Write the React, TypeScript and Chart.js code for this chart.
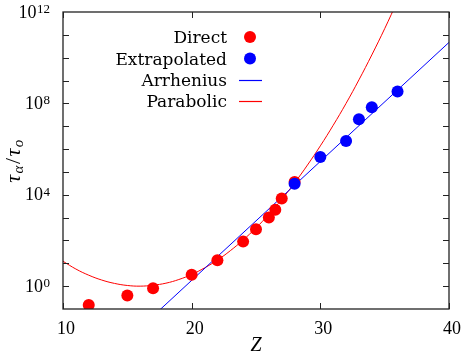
import React, { useEffect, useRef } from 'react';
import { Chart, registerables } from 'chart.js';

Chart.register(...registerables);

// ---- data ----
const directZ = [12, 15, 17, 20, 22, 24, 25, 26, 26.5, 27, 28];
const directTau = [0.148, 0.389, 0.818, 3.16, 13.5, 89, 309, 1023, 2188, 6918, 36300];

const extrapZ = [28, 30, 32, 33, 34, 36];
const extrapTau = [3.02e4, 4.47e5, 2.24e6, 2.04e7, 6.76e7, 3.31e8];

const arrheniusZ = [17, 40];
const arrheniusTau = [0.049, 4.68e10];

const parabolicZ = [10, 11, 12, 13, 14, 15, 16, 17, 18, 19, 20, 21, 22, 23, 24, 25, 26, 27, 28, 29, 30, 31, 32, 33, 34, 35, 36];
const parabolicTau = [
  12.3, 5.62, 3.02, 1.86, 1.32, 1.07, 1.0, 1.1, 1.35, 1.95, 3.24, 6.31, 13.8, 35.5, 105, 355, 1380, 6310,
  3.31e4, 2.0e5, 1.38e6, 1.1e7, 1.0e8, 1.07e9, 1.32e10, 1.86e11, 3.09e12,
];

const xTickValues = [10, 20, 30, 40];
const yTickExponents = [0, 1, 2, 3, 4, 5, 6, 7, 8, 9, 10, 11];
const yLabelExponents = [0, 4, 8, 12];
const legendLabels = ['Direct', 'Extrapolated', 'Arrhenius', 'Parabolic'];

const RED = '#ff0000';
const BLUE = '#0000ff';
const NUM_FONT = '"Liberation Serif", "DejaVu Serif", serif';
const TXT_FONT = '"DejaVu Serif", "Liberation Serif", serif';

const decorPlugin = {
  id: 'decor',
  afterDraw(chart: any) {
    const { ctx, chartArea: a, scales } = chart;
    const xs = scales.x;
    const ys = scales.y;
    ctx.save();

    // frame
    ctx.strokeStyle = '#222';
    ctx.lineWidth = 1.3;
    ctx.strokeRect(a.left, a.top, a.right - a.left, a.bottom - a.top);

    // inward ticks
    ctx.lineWidth = 1;
    const tl = 6;
    const seg = (x1: number, y1: number, x2: number, y2: number) => {
      ctx.beginPath();
      ctx.moveTo(x1, y1);
      ctx.lineTo(x2, y2);
      ctx.stroke();
    };
    for (const v of xTickValues) {
      const px = Math.round(xs.getPixelForValue(v)) + 0.5;
      seg(px, a.bottom, px, a.bottom - tl);
      seg(px, a.top, px, a.top + tl);
    }
    for (const e of yTickExponents) {
      const py = Math.round(ys.getPixelForValue(Math.pow(10, e))) + 0.5;
      seg(a.left, py, a.left + tl, py);
      seg(a.right, py, a.right - tl, py);
    }

    // x tick labels
    ctx.fillStyle = '#000';
    ctx.font = `18px ${NUM_FONT}`;
    ctx.textAlign = 'center';
    ctx.textBaseline = 'alphabetic';
    for (const v of xTickValues) {
      const px = xs.getPixelForValue(v);
      ctx.fillText(String(v), px + 3, a.bottom + 25);
    }

    // y tick labels 10^n
    for (const e of yLabelExponents) {
      const py = ys.getPixelForValue(Math.pow(10, e));
      const sup = String(e);
      ctx.textAlign = 'right';
      ctx.font = `13px ${NUM_FONT}`;
      const ws = ctx.measureText(sup).width;
      ctx.fillText(sup, 50, py + 1);
      ctx.font = `18px ${NUM_FONT}`;
      ctx.fillText('10', 50 - ws - 0.5, py + 5.5);
    }

    // x title
    ctx.font = `italic 20px ${NUM_FONT}`;
    ctx.textAlign = 'center';
    ctx.fillText('Z', (a.left + a.right) / 2, 351);

    // y title: tau_alpha / tau_o
    ctx.save();
    ctx.translate(20, (a.top + a.bottom) / 2);
    ctx.rotate(-Math.PI / 2);
    ctx.textAlign = 'left';
    const parts: [string, string, number][] = [
      ['τ', `italic 22px ${NUM_FONT}`, 0],
      ['α', `italic 15px ${NUM_FONT}`, 3],
      ['/', `22px ${NUM_FONT}`, 0],
      ['τ', `italic 22px ${NUM_FONT}`, 0],
      ['o', `italic 15px ${NUM_FONT}`, 3],
    ];
    let total = 0;
    for (const [t, f] of parts) {
      ctx.font = f;
      total += ctx.measureText(t).width + 1.5;
    }
    let cx = -total / 2;
    for (const [t, f, dy] of parts) {
      ctx.font = f;
      ctx.fillText(t, cx, dy);
      cx += ctx.measureText(t).width + 1.5;
    }
    ctx.restore();

    // legend
    ctx.font = `17px ${TXT_FONT}`;
    ctx.textAlign = 'right';
    const rows = [37, 58.5, 80, 101];
    legendLabels.forEach((lab, i) => {
      const cy = rows[i];
      ctx.fillStyle = '#000';
      ctx.fillText(lab, 227, cy + 6);
      if (i < 2) {
        ctx.fillStyle = i === 0 ? RED : BLUE;
        ctx.beginPath();
        ctx.arc(250, cy, 6, 0, Math.PI * 2);
        ctx.fill();
      } else {
        ctx.strokeStyle = i === 2 ? BLUE : RED;
        ctx.lineWidth = 1.2;
        seg(239, Math.round(cy) + 0.5, 262, Math.round(cy) + 0.5);
      }
    });

    ctx.restore();
  },
};

export default function App() {
  const ref = useRef<HTMLCanvasElement | null>(null);

  useEffect(() => {
    if (!ref.current) return;
    const toPts = (xs: number[], ys: number[]) => xs.map((x, i) => ({ x, y: ys[i] }));
    const chart = new Chart(ref.current, {
      type: 'scatter',
      data: {
        datasets: [
          {
            label: 'Extrapolated',
            data: toPts(extrapZ, extrapTau),
            backgroundColor: BLUE,
            borderColor: BLUE,
            pointRadius: 6,
            pointBorderWidth: 0,
            showLine: false,
            order: 0,
          },
          {
            label: 'Direct',
            data: toPts(directZ, directTau),
            backgroundColor: RED,
            borderColor: RED,
            pointRadius: 6,
            pointBorderWidth: 0,
            showLine: false,
            order: 1,
          },
          {
            label: 'Arrhenius',
            data: toPts(arrheniusZ, arrheniusTau),
            borderColor: BLUE,
            borderWidth: 1,
            pointRadius: 0,
            showLine: true,
            order: 2,
          },
          {
            label: 'Parabolic',
            data: toPts(parabolicZ, parabolicTau),
            borderColor: RED,
            borderWidth: 1,
            pointRadius: 0,
            showLine: true,
            tension: 0.4,
            order: 3,
          },
        ],
      },
      options: {
        animation: false,
        responsive: true,
        maintainAspectRatio: false,
        layout: { padding: { top: 12, right: 14, left: 0, bottom: 0 } },
        plugins: { legend: { display: false }, tooltip: { enabled: false } },
        scales: {
          x: {
            type: 'linear',
            min: 10,
            max: 40,
            grid: { display: false },
            border: { display: false },
            ticks: { display: false },
            afterFit: (s: any) => {
              s.height = 43;
            },
          },
          y: {
            type: 'logarithmic',
            min: 0.1,
            max: 1e12,
            grid: { display: false },
            border: { display: false },
            ticks: { display: false },
            afterFit: (s: any) => {
              s.width = 63;
            },
          },
        },
      },
      plugins: [decorPlugin],
    } as any);
    return () => chart.destroy();
  }, []);

  return (
    <div style={{ position: 'fixed', left: 0, top: 0, width: 463, height: 352, background: '#fff' }}>
      <canvas ref={ref} />
    </div>
  );
}
